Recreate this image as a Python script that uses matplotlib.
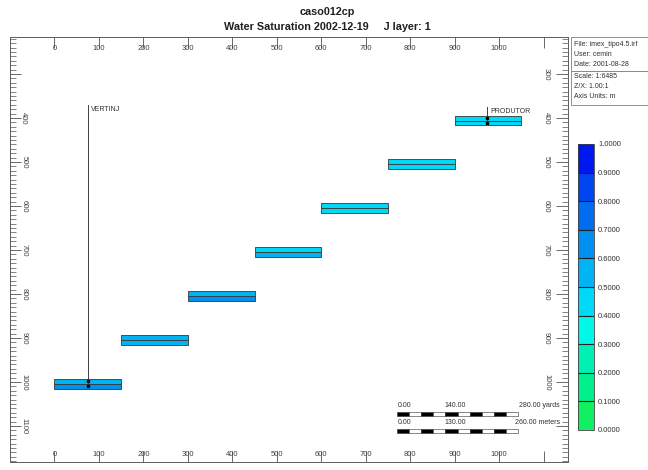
import matplotlib
matplotlib.use("Agg")
import matplotlib.pyplot as plt
import numpy as np
from matplotlib.colors import ListedColormap, BoundaryNorm
from matplotlib.colorbar import ColorbarBase
from matplotlib.patches import Rectangle

plt.rcParams['font.family'] = ['Liberation Sans', 'DejaVu Sans']

# --- grid blocks (cross-section, J layer 1) ---
block_x = [0, 150, 300, 450, 600, 750, 900]        # left edge of each block (m)
block_w = 150
block_top = [993, 893, 793, 693, 593, 493, 395]   # top depth of each block (m)
layer_h = 11                                       # thickness of one layer (m)
sw_upper = [0.56, 0.55, 0.56, 0.42, 0.47, 0.47, 0.47]
sw_lower = [0.64, 0.56, 0.63, 0.53, 0.47, 0.47, 0.47]

# --- wells ---
well_names = ['VERTINJ', 'PRODUTOR']
well_x = [75, 973]
well_top = [370, 375]
well_bot = [1004, 406]

# --- colour scale ---
sw_levels = [0.0, 0.1, 0.2, 0.3, 0.4, 0.5, 0.6, 0.7, 0.8, 0.9, 1.0]
sw_colors = ['#10f060', '#00f08c', '#00f0b4', '#00f8e8', '#00d8f8',
             '#00b4f4', '#0090f0', '#006cf0', '#0044f0', '#0018f0']
cmap = ListedColormap(sw_colors)
norm = BoundaryNorm(sw_levels, cmap.N)

x_ticks = [0, 100, 200, 300, 400, 500, 600, 700, 800, 900, 1000, 1100]
x_labels = ['0', '100', '200', '300', '400', '500', '600', '700', '800', '900', '1000', '']
left_ticks = [300, 400, 500, 600, 700, 800, 900, 1000, 1100]
left_labels = ['', '400', '500', '600', '700', '800', '900', '1000', '1100']
right_ticks = [300, 400, 500, 600, 700, 800, 900, 1000, 1100]
right_labels = ['300', '400', '500', '600', '700', '800', '900', '1000', '']
minor_ticks = np.arange(220, 1181, 10)

fig = plt.figure(figsize=(6.48, 4.70), dpi=100)
ax = fig.add_axes([10 / 648, 1 - 462 / 470, 558 / 648, 425 / 470])
ax2 = ax.twinx()
ax3 = ax.twiny()

# blocks: two layers each
for x0, top, s1, s2 in zip(block_x, block_top, sw_upper, sw_lower):
    ax.bar(x0, layer_h, width=block_w, bottom=top, align='edge',
           color=cmap(norm(s1)), edgecolor='#383838', linewidth=0.6, zorder=2)
    ax.bar(x0, layer_h, width=block_w, bottom=top + layer_h, align='edge',
           color=cmap(norm(s2)), edgecolor='#383838', linewidth=0.6, zorder=2)

# wells
for name, wx, wt, wb in zip(well_names, well_x, well_top, well_bot):
    ax.plot([wx, wx], [wt, wb], color='#404040', lw=0.7, zorder=3)
    ax.plot([wx, wx], [wb - 5, wb + 5], ls='none', marker='s', ms=1.6,
            color='black', zorder=4)
    ax.text(wx + 8, wt + 2, name, fontsize=5, color='#303030',
            ha='left', va='top')

ax.set_xlim(-100, 1155)
ax.set_ylim(1182, 216)
ax2.set_ylim(1182, 216)
ax3.set_xlim(-100, 1155)

tick_col = '#505050'
lab_col = '#404040'

# bottom axis
ax.set_xticks(x_ticks)
ax.set_xticklabels(x_labels)
ax.tick_params(axis='x', which='major', top=False, bottom=True, labeltop=False,
               labelbottom=True, direction='in', length=8, width=0.6,
               color=tick_col, labelsize=5.5, labelcolor=lab_col, pad=-8)
# top axis
ax3.set_xticks(x_ticks)
ax3.set_xticklabels(x_labels)
ax3.tick_params(axis='x', which='major', direction='in', length=8, width=0.6,
                color=tick_col, labelsize=5.5, labelcolor=lab_col, pad=-11)

# left axis
ax.set_yticks(left_ticks)
ax.set_yticklabels(left_labels, rotation=270, va='center')
ax.set_yticks(minor_ticks, minor=True)
ax.tick_params(axis='y', which='major', left=True, right=False, direction='in',
               length=8, width=0.6, color=tick_col, labelsize=5.5,
               labelcolor=lab_col, pad=-12.5)
ax.tick_params(axis='y', which='minor', left=True, right=False, direction='in',
               length=4, width=0.5, color=tick_col)

# right axis
ax2.set_yticks(right_ticks)
ax2.set_yticklabels(right_labels, rotation=270, va='center')
ax2.set_yticks(minor_ticks, minor=True)
ax2.tick_params(axis='y', which='major', direction='in', length=9, width=0.6,
                color=tick_col, labelsize=5.5, labelcolor=lab_col, pad=-18)
ax2.tick_params(axis='y', which='minor', direction='in', length=4, width=0.5,
                color=tick_col)

for a in (ax, ax2, ax3):
    for sp in a.spines.values():
        sp.set_color('#606060')
        sp.set_linewidth(0.7)

# scale bars
def scale_bar(y_text, y_bar, labels, unit):
    x0, x1 = 0.694, 0.910
    ax.text(x0, y_text, labels[0], transform=ax.transAxes, fontsize=5,
            ha='left', va='center', color='#303030')
    ax.text((x0 + x1) / 2 - 0.005, y_text, labels[1], transform=ax.transAxes,
            fontsize=5, ha='center', va='center', color='#303030')
    ax.text(0.986, y_text, labels[2] + ' ' + unit, transform=ax.transAxes,
            fontsize=5, ha='right', va='center', color='#303030')
    n = 10
    seg = (x1 - x0) / n
    for i in range(n):
        ax.add_patch(Rectangle((x0 + i * seg, y_bar - 0.005), seg, 0.01,
                               transform=ax.transAxes,
                               facecolor='black' if i % 2 == 0 else 'white',
                               edgecolor='#303030', linewidth=0.4, zorder=5))

scale_bar(0.134, 0.113, ['0.00', '140.00', '280.00'], 'yards')
scale_bar(0.092, 0.073, ['0.00', '130.00', '260.00'], 'meters')

# titles
fig.text(0.505, 1 - 12 / 470, 'caso012cp', ha='center', va='center',
         fontsize=7.8, fontweight='bold', color='#202020')
fig.text(0.505, 1 - 27 / 470, 'Water Saturation 2002-12-19     J layer: 1',
         ha='center', va='center', fontsize=7.8, fontweight='bold',
         color='#202020')

# info boxes
for (y0, y1) in [(37, 71), (71, 105)]:
    fig.patches.append(Rectangle((571 / 648, 1 - y1 / 470), 80 / 648,
                                 (y1 - y0) / 470, transform=fig.transFigure,
                                 facecolor='white', edgecolor='#808080',
                                 linewidth=0.6))
info = ['File: imex_tipo4.5.irf', 'User: cemin', 'Date: 2001-08-28',
        'Scale: 1:6485', 'Z/X: 1.00:1', 'Axis Units: m']
info_y = [44, 54, 64, 77, 87, 97]
for t, yy in zip(info, info_y):
    fig.text(574 / 648, 1 - yy / 470, t, fontsize=5, color='#303030',
             ha='left', va='center')

# colour bar
cax = fig.add_axes([578 / 648, 1 - 430 / 470, 16 / 648, 286 / 470])
cb = ColorbarBase(cax, cmap=cmap, norm=norm, boundaries=sw_levels,
                  ticks=sw_levels, drawedges=True)
cb.outline.set_edgecolor('#404040')
cb.outline.set_linewidth(0.6)
cb.dividers.set_color('#202020')
cb.dividers.set_linewidth(0.8)
cax.set_yticklabels(['%.4f' % v for v in sw_levels])
cax.tick_params(length=0, labelsize=5.5, labelcolor='#303030', pad=3)

fig.savefig('out.png', dpi=100)
